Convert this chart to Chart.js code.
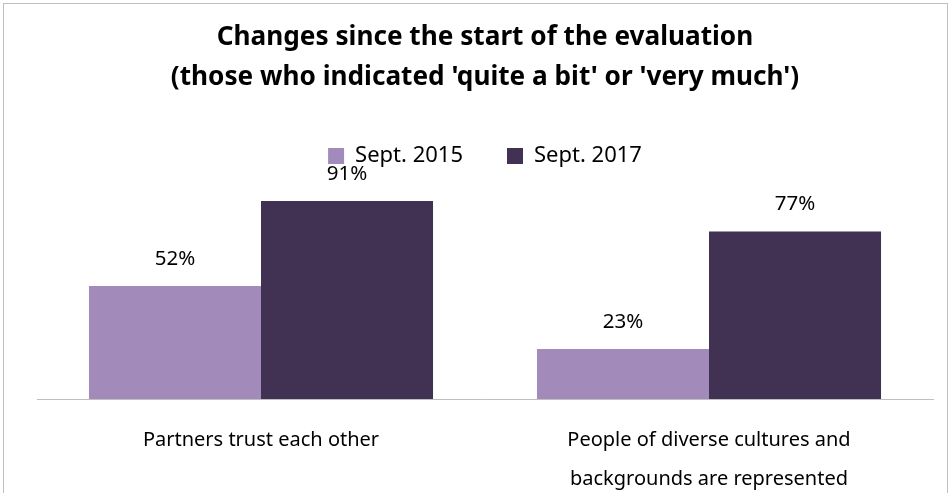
<!DOCTYPE html>
<html>
<head>
<meta charset="utf-8">
<script src="https://cdn.jsdelivr.net/npm/chart.js@4.4.0/dist/chart.umd.min.js"></script>
<style>
  html, body { margin: 0; padding: 0; background: #fff; }
</style>
</head>
<body>
<canvas id="myChart" width="951" height="493"></canvas>
<script>
// datos del grafico
const categorias = [['Partners trust each other'], ['People of diverse cultures and', 'backgrounds are represented']];
const series = ['Sept. 2015', 'Sept. 2017'];
const valores2015 = [52, 23];
const valores2017 = [91, 77];
const colores = ['#a28bba', '#413152'];

const fuente = "'Noto Sans', 'Liberation Sans', sans-serif";

// etiquetas de porcentaje encima de las barras + marco
const etiquetas = {
    id: 'etiquetas',
    beforeInit(chart) {
        // un poco mas de espacio debajo de la leyenda
        const fitOriginal = chart.legend.fit;
        chart.legend.fit = function () {
            fitOriginal.bind(chart.legend)();
            this.height += 4.5;
        };
    },
    afterDatasetsDraw(chart) {
        const ctx = chart.ctx;
        ctx.save();
        ctx.font = '20.5px ' + fuente;
        ctx.fillStyle = '#000';
        ctx.textAlign = 'center';
        ctx.textBaseline = 'middle';
        chart.data.datasets.forEach((ds, i) => {
            chart.getDatasetMeta(i).data.forEach((bar, j) => {
                ctx.fillText(ds.data[j] + '%', bar.x, bar.y - 27);
            });
        });
        ctx.restore();
    },
    afterDraw(chart) {
        const ctx = chart.ctx;
        ctx.save();
        ctx.strokeStyle = '#bfbfbf';
        ctx.lineWidth = 1;
        ctx.strokeRect(3.5, 3.5, 944, 600);
        ctx.restore();
    }
};

const ctx = document.getElementById('myChart');
var myChart = new Chart(ctx, {
    type: 'bar',
    data: {
        labels: categorias,
        datasets: [{
            label: series[0],
            data: valores2015,
            backgroundColor: colores[0]
        }, {
            label: series[1],
            data: valores2017,
            backgroundColor: colores[1]
        }]
    },
    options: {
        responsive: false,
        animation: false,
        layout: { padding: { left: 37, right: 18, top: 10, bottom: 0 } },
        categoryPercentage: 0.768,
        barPercentage: 1,
        plugins: {
            title: {
                display: true,
                text: ['Changes since the start of the evaluation', "(those who indicated 'quite a bit' or 'very much')"],
                color: '#000',
                font: { family: fuente, size: 26.2, weight: 'bold', lineHeight: 1.527 },
                padding: { top: 7.5, bottom: 3.5 }
            },
            legend: {
                labels: {
                    color: '#000',
                    font: { family: fuente, size: 22 },
                    boxWidth: 16,
                    boxHeight: 16,
                    padding: 44
                }
            },
            tooltip: { enabled: false }
        },
        scales: {
            y: {
                display: false,
                min: 0,
                max: 100
            },
            x: {
                grid: { display: false },
                border: { color: '#bfbfbf', width: 1 },
                ticks: {
                    color: '#000',
                    font: { family: fuente, size: 20, lineHeight: 1.95 },
                    padding: 13.5
                },
                afterFit(scale) { scale.height = 94; }
            }
        }
    },
    plugins: [etiquetas]
});
</script>
</body>
</html>
